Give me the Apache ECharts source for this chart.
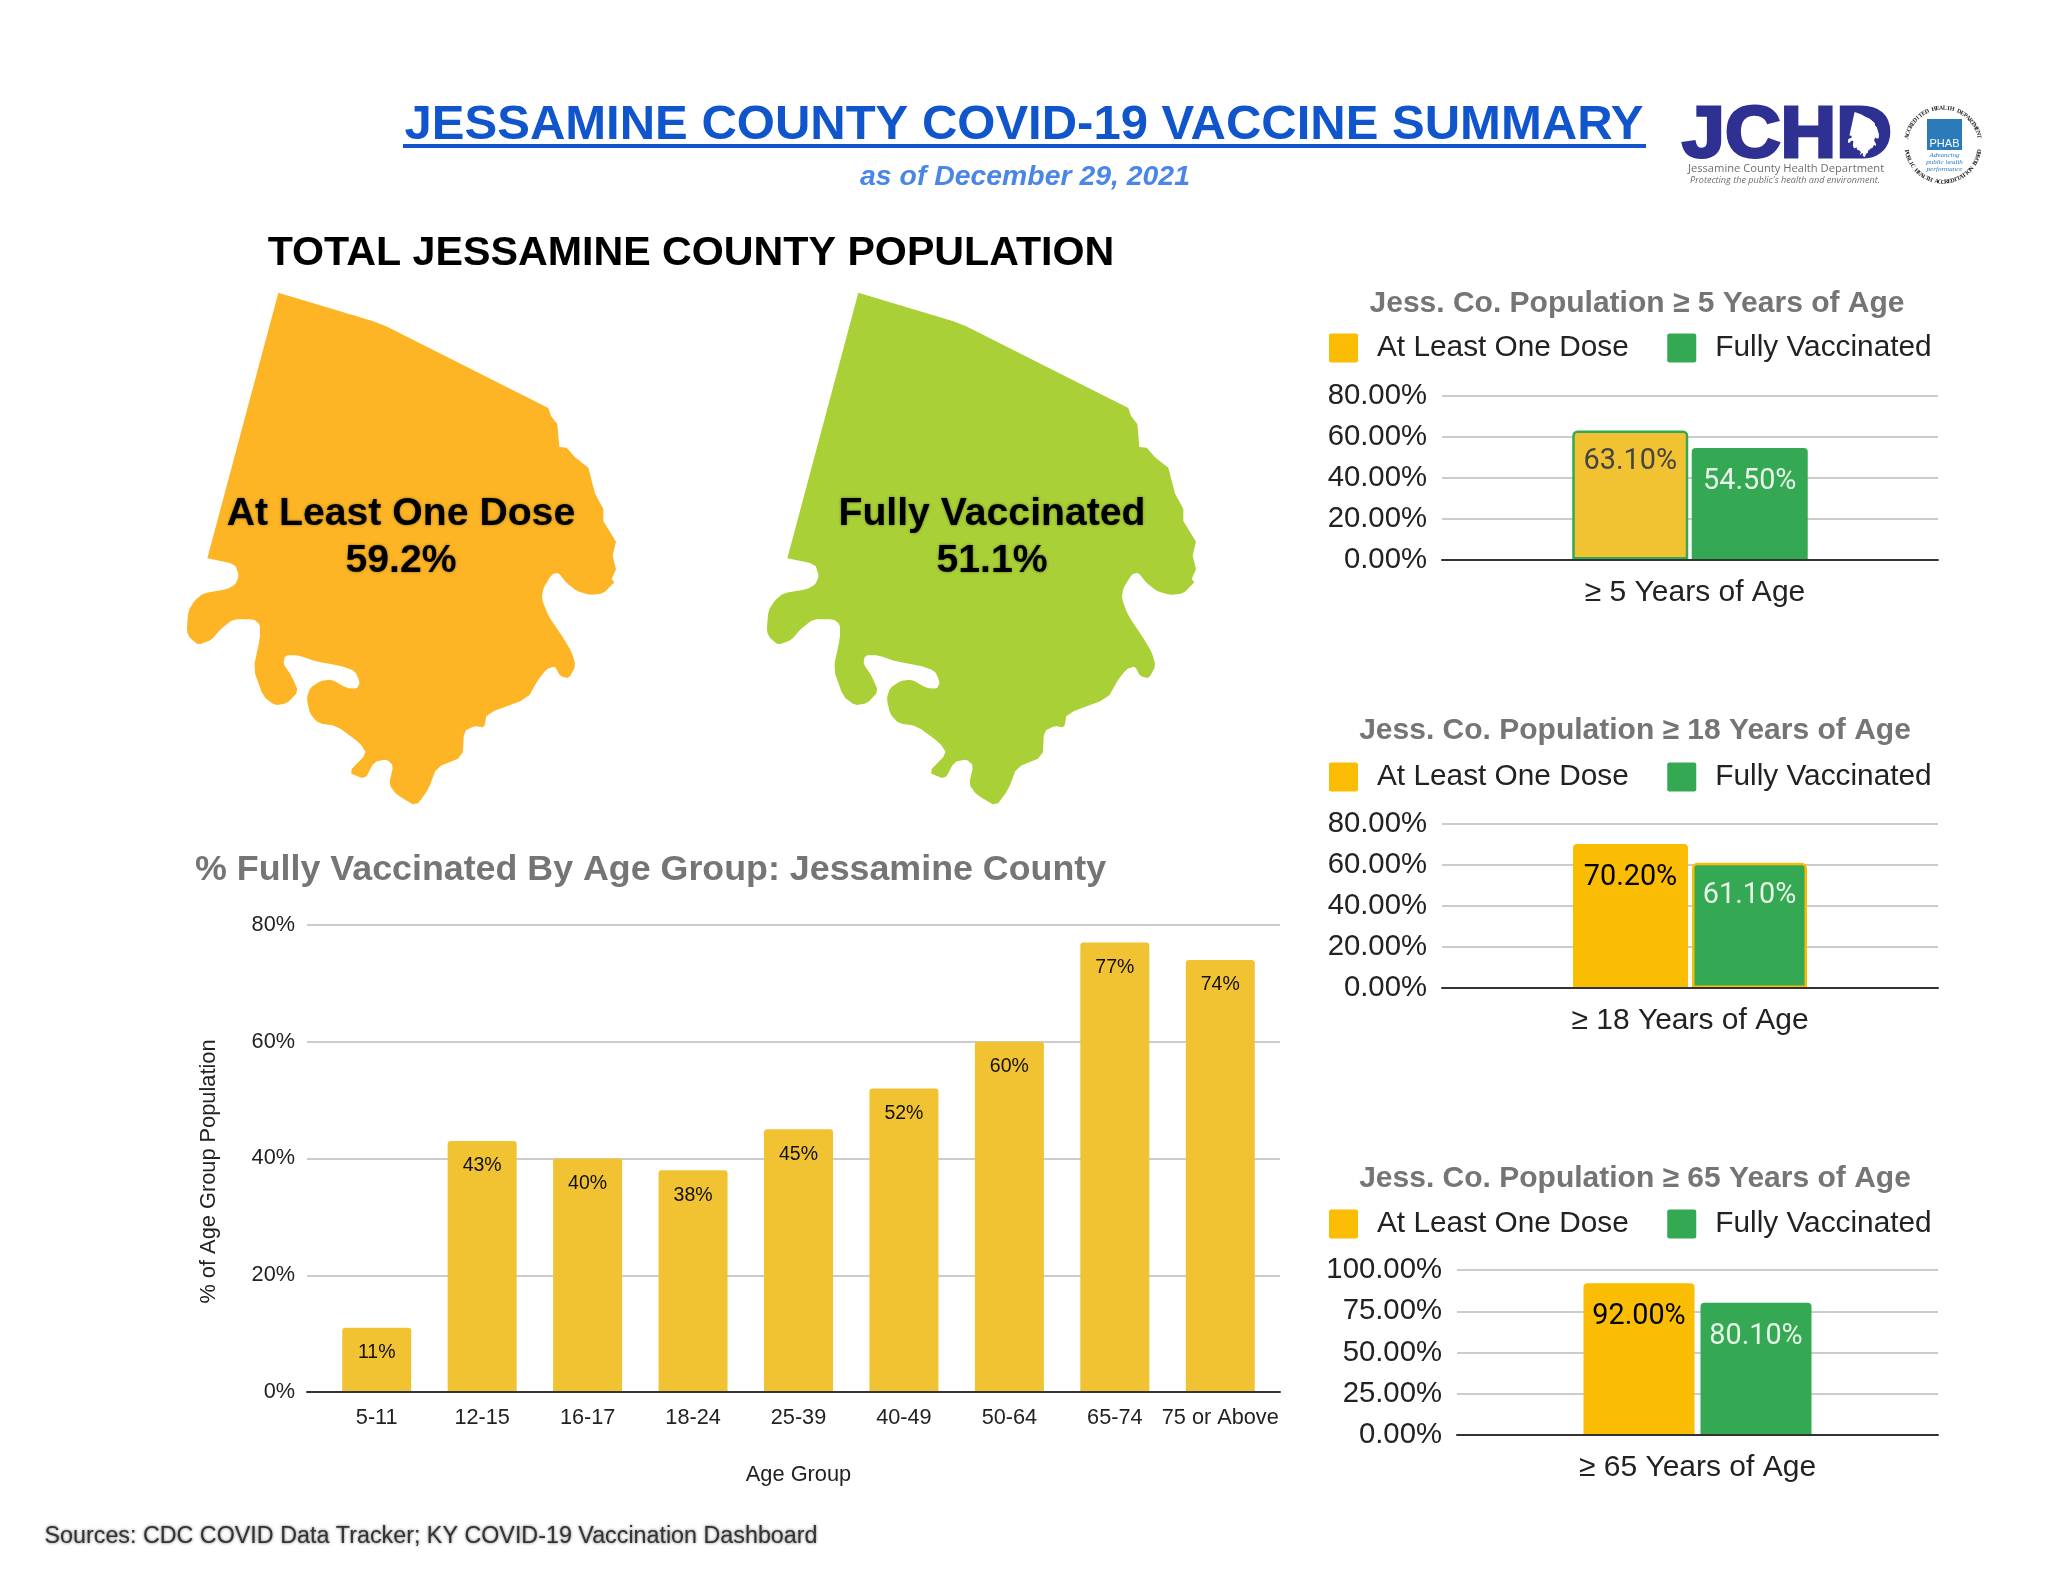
<!DOCTYPE html>
<html><head><meta charset="utf-8">
<style>html,body{margin:0;padding:0;background:#fff}#c{width:2048px;height:1583px}</style>
<script src="https://cdn.jsdelivr.net/npm/echarts@6/dist/echarts.min.js"></script>
</head><body><div id="c"></div>
<script>
const ageGroups = ['5-11','12-15','16-17','18-24','25-39','40-49','50-64','65-74','75 or Above'];
const fullyByAge = [11,43,40,38,45,52,60,77,74];
const ageTicks = [0,20,40,60,80];
const cohorts = ['≥ 5 Years of Age','≥ 18 Years of Age','≥ 65 Years of Age'];
const cohortTitles = ['Jess. Co. Population ≥ 5 Years of Age','Jess. Co. Population ≥ 18 Years of Age','Jess. Co. Population ≥ 65 Years of Age'];
const cohortOneDose = [63.1,70.2,92.0];
const cohortFully = [54.5,61.1,80.1];
const cohortAxisMax = [80,80,100];
const cohortAxisStep = [20,20,25];
const countyOneDose = 59.2;
const countyFully = 51.1;
const seriesNames = ['At Least One Dose','Fully Vaccinated'];
// county silhouette: straight north-east edges, then the winding river edge
const countyEdgeStraight = [[112,808],[325,37],[610,120],[650,135],[1135,372],[1143,395],[1162,418],[1168,485],[1190,487],[1215,515],[1255,545],[1275,620],[1300,665],[1300,700],[1338,760],[1328,800],[1338,840],[1325,868],[1333,878]];
const countyEdgeRiver = [[1300,910],[1260,915],[1220,903],[1190,880],[1165,850],[1145,855],[1120,895],[1115,925],[1135,975],[1180,1040],[1205,1080],[1217,1120],[1197,1157],[1170,1150],[1155,1122],[1130,1130],[1105,1160],[1073,1215],[950,1260],[943,1300],[915,1295],[882,1310],[878,1385],[800,1415],[775,1480],[738,1528],[680,1495],[657,1465],[670,1410],[650,1392],[612,1400],[585,1450],[535,1430],[590,1375],[570,1345],[500,1295],[445,1287],[420,1260],[410,1215],[420,1185],[450,1165],[485,1160],[530,1185],[560,1187],[570,1170],[555,1135],[510,1120],[440,1108],[385,1090],[345,1090],[340,1115],[365,1150],[385,1195],[350,1230],[315,1235],[280,1210],[250,1130],[270,1040],[270,1000],[250,985],[190,985],[150,1015],[125,1045],[85,1060],[60,1040],[50,1020],[55,960],[75,930],[100,910],[170,898],[195,885],[207,860],[195,825]];

const FONT='"Liberation Sans", Arial, sans-serif';
const YEL='#FBBC04', GRN='#34A853', MAIN='#F1C232';
const round=pts=>{const t=.18,o=[pts[0]];for(let i=0;i<pts.length-1;i++){const a=pts[i],b=pts[i+1];o.push([a[0]*(1-t)+b[0]*t,a[1]*(1-t)+b[1]*t],[a[0]*t+b[0]*(1-t),a[1]*t+b[1]*(1-t)]);}o.push(pts[pts.length-1]);return o;};
const river=round([countyEdgeStraight[countyEdgeStraight.length-1],...countyEdgeRiver,countyEdgeStraight[0]]);
const outlinePx=[...countyEdgeStraight.slice(0,-1),...river.slice(0,-1)].map(p=>[p[0]/3,p[1]/2.904]);
const xs=outlinePx.map(p=>p[0]), ys=outlinePx.map(p=>p[1]);
const minX=Math.min(...xs), maxX=Math.max(...xs), minY=Math.min(...ys), maxY=Math.max(...ys);
const ring=outlinePx.map(p=>[p[0],-p[1]]); ring.push(ring[0]);
['countyA','countyB'].forEach(n=>echarts.registerMap(n,{type:'FeatureCollection',features:[{type:'Feature',properties:{name:'Jessamine'},geometry:{type:'Polygon',coordinates:[ring]}}]}));

const layouts=[
 {top:396,h:163.5,left:1442,barW:116,gap:'3%',catPad:10,fill:'#F1C232',border1:GRN,border2:null,labelCol:'#444444',titleX:1637,titleY:304,legTop:333},
 {top:824,h:164,left:1442,barW:115,gap:'3.5%',catPad:0,fill:YEL,border1:null,border2:YEL,labelCol:'#000000',titleX:1635,titleY:731,legTop:762},
 {top:1270,h:165,left:1457,barW:111,gap:'5.4%',catPad:0,fill:YEL,border1:null,border2:null,labelCol:'#000000',titleX:1635,titleY:1178.5,legTop:1209}
];
const gridRight=2048-1938;

const grid=[{left:307,right:2048-1280,top:925,height:467},{left:324,right:2048-1273,top:925,height:467}];
const xAxis=[
 {gridIndex:0,type:'value',min:0,max:1,z:3,axisLine:{show:true,lineStyle:{color:'#333333',width:2}},axisTick:{show:false},axisLabel:{show:false},splitLine:{show:false}},
 {gridIndex:1,type:'category',data:ageGroups,name:'Age Group',nameLocation:'middle',nameGap:72,nameTextStyle:{fontFamily:FONT,fontSize:21.8,color:'#222'},
  axisLine:{show:false},axisTick:{show:false},axisLabel:{fontFamily:FONT,fontSize:21.7,color:'#222',margin:15,interval:0}}
];
const yAxis=[
 {gridIndex:0,type:'value',min:0,max:ageTicks[ageTicks.length-1],interval:ageTicks[1],name:'% of Age Group Population',nameLocation:'middle',nameGap:87,nameTextStyle:{fontFamily:FONT,fontSize:21.8,color:'#222',padding:[0,26,0,0]},
  axisLine:{show:false},axisTick:{show:false},axisLabel:{fontFamily:FONT,fontSize:21.7,color:'#222',margin:12,padding:[4,0,0,0],formatter:v=>v+'%'},splitLine:{lineStyle:{color:'#CCCCCC',width:2}}},
 {gridIndex:1,type:'value',min:0,max:ageTicks[ageTicks.length-1],interval:ageTicks[1],show:false}
];
const series=[{type:'bar',name:'% Fully Vaccinated',xAxisIndex:1,yAxisIndex:1,data:fullyByAge,barWidth:69,silent:true,itemStyle:{color:MAIN,borderRadius:[3,3,0,0]},
  label:{show:true,position:'insideTop',distance:15,fontFamily:FONT,fontSize:19.5,color:'#111',formatter:p=>p.value+'%'}}];
const legend=[];
const title=[];
const T=(text,x,y,size,color,extra)=>title.push({text,left:x,top:y,textAlign:'center',textVerticalAlign:'middle',padding:0,textStyle:Object.assign({fontFamily:FONT,fontSize:size,fontWeight:'bold',color},extra||{})});
T('JESSAMINE COUNTY COVID-19 VACCINE SUMMARY',1024,125,49,'#1155CC');
T('as of December 29, 2021',1025,177,28.4,'#4A86E8',{fontStyle:'italic'});
T('TOTAL JESSAMINE COUNTY POPULATION',691,254,41.2,'#000000');
T('% Fully Vaccinated By Age Group: Jessamine County',650.6,870,35.8,'#757575');

const legendIcon='path://M2,0H27Q29,0 29,2V27Q29,29 27,29H2Q0,29 0,27V2Q0,0 2,0Z';
layouts.forEach((L,i)=>{
  const gi=2+i;
  grid.push({left:L.left,right:gridRight,top:L.top,height:L.h});
  xAxis.push({gridIndex:gi,type:'category',data:[cohorts[i]],z:3,axisLine:{lineStyle:{color:'#333333',width:2}},axisTick:{show:false},
    axisLabel:{fontFamily:FONT,fontSize:30,color:'#222',margin:18,padding:[0,0,0,L.catPad]}});
  yAxis.push({gridIndex:gi,type:'value',min:0,max:cohortAxisMax[i],interval:cohortAxisStep[i],axisLine:{show:false},axisTick:{show:false},
    axisLabel:{fontFamily:FONT,fontSize:29.3,color:'#222',margin:15,padding:[3,0,0,0],formatter:v=>v.toFixed(2)+'%'},splitLine:{lineStyle:{color:'#CCCCCC',width:2}}});
  const lab=(col,d)=>({show:true,position:'insideTop',distance:d,fontFamily:'Roboto, sans-serif',fontSize:28.8,color:col,formatter:p=>p.value.toFixed(2)+'%'});
  series.push({type:'bar',name:seriesNames[0],xAxisIndex:gi,yAxisIndex:gi,data:[cohortOneDose[i]],barWidth:L.barW,barGap:L.gap,silent:true,
    itemStyle:{color:L.fill,borderRadius:[4,4,0,0],borderColor:L.border1||L.fill,borderWidth:L.border1?2.5:0},label:lab(L.labelCol,i===0?17:19)});
  series.push({type:'bar',name:seriesNames[1],xAxisIndex:gi,yAxisIndex:gi,data:[cohortFully[i]],barWidth:L.barW,barGap:L.gap,silent:true,
    itemStyle:{color:GRN,borderRadius:[4,4,0,0],borderColor:L.border2||GRN,borderWidth:L.border2?2.5:0},label:lab('#E8F5E9',19)});
  legend.push({left:1329,top:L.legTop,padding:0,itemWidth:29,itemHeight:29,itemGap:38.5,icon:legendIcon,selectedMode:false,
    textStyle:{fontFamily:FONT,fontSize:29.8,color:'#222',padding:[0,0,0,14]},
    data:[{name:seriesNames[0],itemStyle:{color:YEL,borderWidth:0}},{name:seriesNames[1],itemStyle:{color:GRN,borderWidth:0}}]});
  T(cohortTitles[i],L.titleX,L.titleY,30,'#757575');
});

// county silhouettes
[['countyA',countyOneDose,'#FDB525',170],['countyB',countyFully,'#A9D037',750]].forEach(([m,v,c,ox])=>{
  series.push({type:'map',map:m,showLegendSymbol:false,aspectScale:1,roam:false,silent:true,selectedMode:false,left:ox+minX,top:280+minY,width:maxX-minX,height:maxY-minY,
    label:{show:false},emphasis:{disabled:true},itemStyle:{areaColor:c,borderWidth:0},data:[{name:'Jessamine',value:v}]});
});

const graphic=[];
const txt=(text,x,y,font,fill,extra,el)=>graphic.push(Object.assign({type:'text',z:50,x,y,style:Object.assign({text,font,fill,align:'center',verticalAlign:'middle'},(extra||{}))},el||{}));
const soft={textShadowBlur:3,textShadowColor:'rgba(0,0,0,0.4)'};
txt(seriesNames[0],401,514,'bold 39.2px "Liberation Sans"','#000',soft);
txt(countyOneDose+'%',401,561,'bold 39.2px "Liberation Sans"','#000',soft);
txt(seriesNames[1],992,514,'bold 39.2px "Liberation Sans"','#000',soft);
txt(countyFully+'%',992,561,'bold 39.2px "Liberation Sans"','#000',soft);
txt('Sources: CDC COVID Data Tracker; KY COVID-19 Vaccination Dashboard',431,1537,'23.3px "Liberation Sans"','#333',{textShadowBlur:3,textShadowColor:'rgba(0,0,0,0.6)'});
graphic.push({type:'rect',z:50,shape:{x:403,y:144,width:1243,height:4},style:{fill:'#1155CC'}});

// JCHD logo
const NAVY='#2E3192';
txt('JCHD',1787,137,'bold 72px "Liberation Sans"',NAVY,{stroke:NAVY,lineWidth:3},{scaleX:1.07});
const bw=maxX-minX,bh=maxY-minY;
graphic.push({type:'polygon',z:51,shape:{points:outlinePx.map(p=>[1848+(p[0]-minX)/bw*31,112+(p[1]-minY)/bh*45])},style:{fill:'#fff'}});
txt('Jessamine County Health Department',1786,169,'11.2px "Open Sans"','#6D6E71');
txt("Protecting the public's health and environment.",1785,180,'italic 9.1px "Open Sans"','#6D6E71');
// PHAB badge
const cx=1943,cy=145,R=37;
graphic.push({type:'rect',z:50,shape:{x:1927,y:119,width:35,height:31},style:{fill:'#2B7BBA'}});
txt('PHAB',1944.5,144,'11px "Liberation Sans"','#fff');
txt('Advancing',1944.5,155,'italic 7px "Liberation Serif"','#2B7BBA');
txt('public health',1944.5,162,'italic 7px "Liberation Serif"','#2B7BBA');
txt('performance',1944.5,169,'italic 7px "Liberation Serif"','#2B7BBA');
const arc=(s,span,top)=>{[...s].forEach((ch,k)=>{const a=(-span+2*span*k/(s.length-1))*Math.PI/180;
  graphic.push({type:'text',z:50,x:cx+R*Math.sin(a),y:cy+(top?-1:1)*R*Math.cos(a),rotation:top?-a:a,style:{text:ch,font:'bold 6px "Liberation Serif"',fill:'#222',align:'center',verticalAlign:'middle'}});});};
arc('ACCREDITED HEALTH DEPARTMENT',77,true);
arc('PUBLIC HEALTH ACCREDITATION BOARD',80,false);

const chart=echarts.init(document.getElementById('c'),null,{renderer:'canvas'});
chart.setOption({animation:false,backgroundColor:'#fff',title,legend,grid,xAxis,yAxis,series,graphic});
</script></body></html>
